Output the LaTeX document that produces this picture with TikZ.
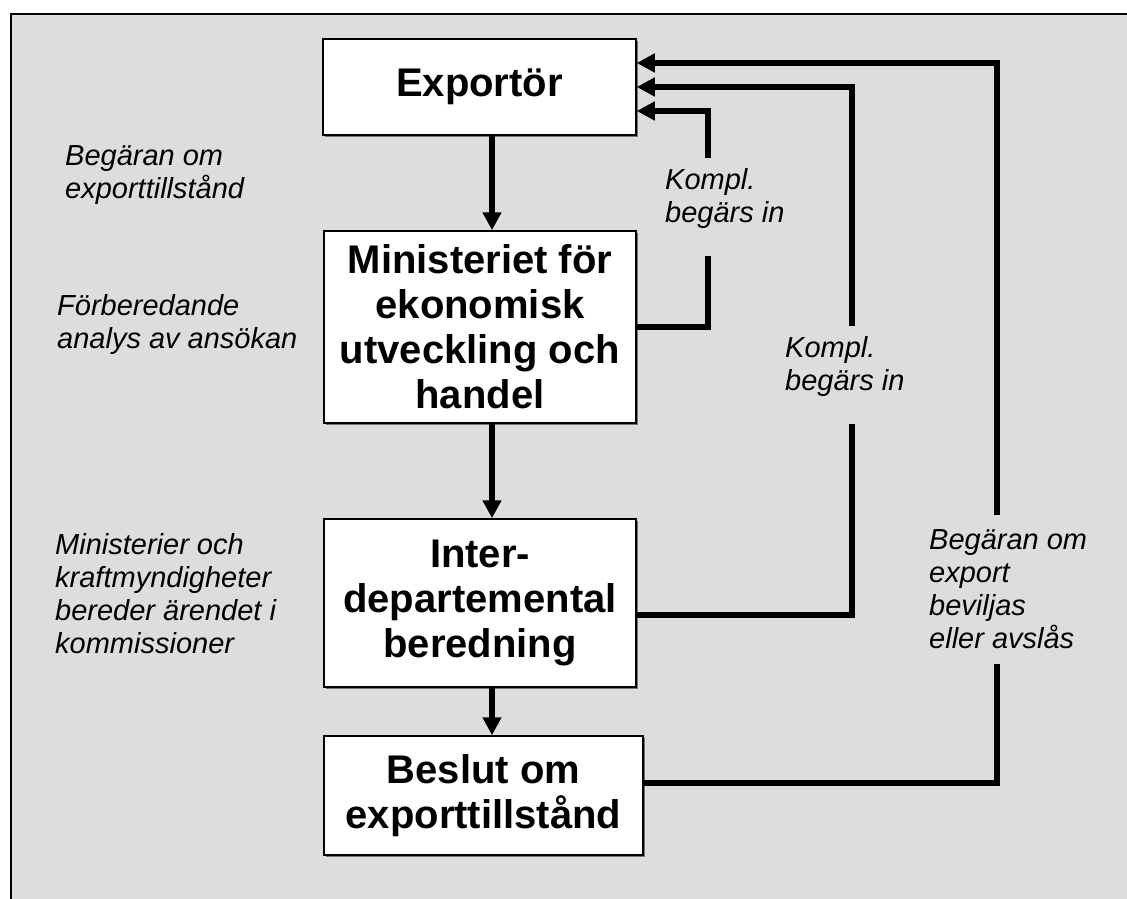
\documentclass[tikz,border=0pt]{standalone}
\usepackage{fontspec}
\setmainfont{Liberation Sans}
\usetikzlibrary{arrows.meta,shadows}
\definecolor{panel}{RGB}{221,221,221}
\begin{document}
\begin{tikzpicture}[x=1pt,y=-1pt,
  box/.style={draw=black,line width=1.5pt,fill=white,inner sep=0pt,align=center,
    font=\fontsize{40}{45}\selectfont\bfseries,
    drop shadow={shadow xshift=1.5pt,shadow yshift=-1.5pt,fill=black!55,opacity=1}},
  flow/.style={line width=6pt,-{Triangle[length=18pt,width=18pt]}},
  link/.style={line width=6pt},
  note/.style={align=left,anchor=base west,inner sep=0pt,
    font=\fontsize{29}{33}\selectfont\itshape}]
\useasboundingbox (0,0) rectangle (1127,898);
\clip (0,0) rectangle (1127,898);

% grey panel, open towards the right and bottom
\fill[panel] (11,14) rectangle (1140,910);
\draw[line width=2pt] (11,910) -- (11,14) -- (1140,14);

% process boxes
\node[box,minimum width=313pt,minimum height=96pt]  (exp) at (479.5,87)    {Exportör};
\node[box,minimum width=312pt,minimum height=192pt] (min) at (480,327)     {Ministeriet för\\ekonomisk\\utveckling och\\handel};
\node[box,minimum width=312pt,minimum height=168pt] (int) at (480,603)     {Inter-\\departemental\\beredning};
\node[box,minimum width=319pt,minimum height=119pt] (bes) at (483.5,795.5) {Beslut om\\exporttillstånd};

% main flow downwards
\draw[flow] ([xshift=12.5pt]exp.south) -- ([xshift=12pt]min.north);
\draw[flow] ([xshift=12pt]min.south) -- ([xshift=12pt]int.north);
\draw[flow] ([xshift=12pt]int.south) -- ([xshift=8.5pt]bes.north);

% return paths to the exporter, interrupted by their labels
\coordinate (k1b) at (708,256);
\coordinate (k1t) at (708,158);
\coordinate (k2b) at (852,424);
\coordinate (k2t) at (852,326);
\coordinate (k3b) at (997,664);
\coordinate (k3t) at (997,515);

\draw[link] (min.east) -| (k1b);
\draw[flow] (k1t) |- ([yshift=-24pt]exp.east);

\draw[link] ([yshift=-12pt]int.east) -| (k2b);
\draw[flow] (k2t) |- (exp.east);

\draw[link] ([yshift=12.5pt]bes.east) -| (k3b);
\draw[flow] (k3t) |- ([yshift=24pt]exp.east);

% labels (anchored at the baseline of their last line)
\node[note] (n1) at (65,198)  {Begäran om\\exporttillstånd};
\node[note] (n2) at (57,348)  {Förberedande\\analys av ansökan};
\node[note] (n3) at (55,653)  {Ministerier och\\kraftmyndigheter\\bereder ärendet i\\kommissioner};
\node[note] (k1) at (665,222) {Kompl.\\begärs in};
\node[note] (k2) at (785,390) {Kompl.\\begärs in};
\node[note] (k3) at (929,648) {Begäran om\\export\\beviljas\\eller avslås};
\end{tikzpicture}
\end{document}
